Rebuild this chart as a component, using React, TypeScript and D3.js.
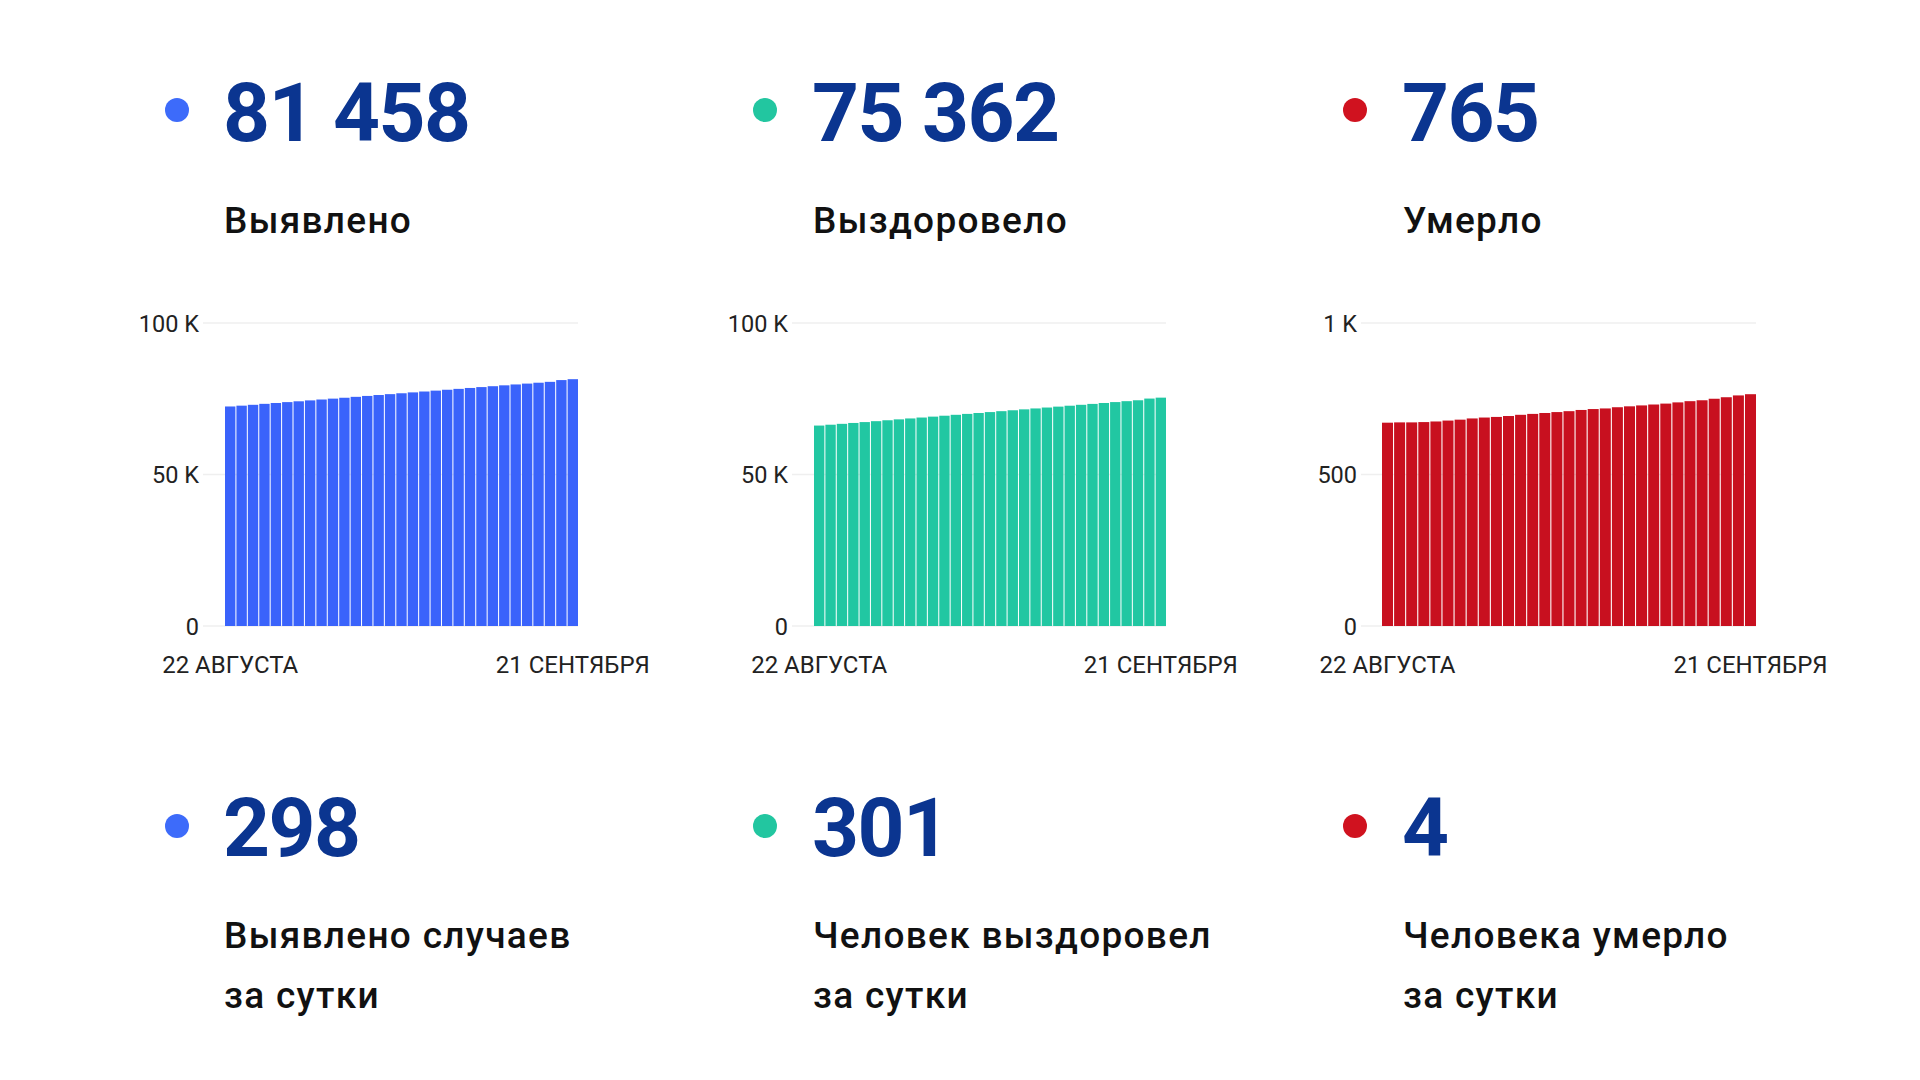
import * as d3 from 'd3'

// 22 августа … 21 сентября, cumulative totals
const DAYS = d3.range(31).map(i => `d${i}`)

const CASES = [
  72450, 72720, 73000, 73320, 73600, 73890, 74160, 74460, 74750, 75040,
  75330, 75630, 75930, 76230, 76520, 76810, 77100, 77390, 77680, 77970,
  78260, 78560, 78850, 79140, 79430, 79720, 80000, 80290, 80580, 81160, 81458,
]

const RECOVERED = [
  66150, 66430, 66720, 67010, 67300, 67600, 67900, 68200, 68500, 68800,
  69100, 69400, 69700, 70000, 70300, 70600, 70900, 71200, 71500, 71800,
  72100, 72400, 72700, 73000, 73300, 73600, 73900, 74200, 74500, 75061, 75362,
]

const DEATHS = [
  671, 672, 672, 673, 675, 678, 681, 685, 688, 690,
  693, 697, 700, 703, 706, 709, 713, 716, 718, 722,
  725, 728, 731, 734, 738, 742, 745, 750, 755, 761, 765,
]

const X_LABELS = ['22 АВГУСТА', '21 СЕНТЯБРЯ']

const TOTALS = ['81 458', '75 362', '765']
const TOTAL_LABELS = ['Выявлено', 'Выздоровело', 'Умерло']
const DAILY = ['298', '301', '4']
const DAILY_LABELS = [
  ['Выявлено случаев', 'за сутки'],
  ['Человек выздоровел', 'за сутки'],
  ['Человека умерло', 'за сутки'],
]

const DOT_COLORS = ['#3d6bfa', '#22c6a0', '#d0121f']
const BAR_COLORS = ['#3a63fb', '#21c7a2', '#c8101f']
const NUM_COLOR = '#0b3590'
const FONT = 'Roboto, "Noto Sans", sans-serif'

type ChartCfg = {
  values: number[]
  max: number
  ticks: number[]
  fmt: (v: number) => string
  labelRight: number
  x0: number
  x1: number
  color: string
}

const kFmt = (v: number) => (v === 0 ? '0' : `${v / 1000} K`)

const CHARTS: ChartCfg[] = [
  { values: CASES, max: 100000, ticks: [0, 50000, 100000], fmt: kFmt, labelRight: 199, x0: 225, x1: 578, color: BAR_COLORS[0] },
  { values: RECOVERED, max: 100000, ticks: [0, 50000, 100000], fmt: kFmt, labelRight: 788, x0: 814, x1: 1166, color: BAR_COLORS[1] },
  { values: DEATHS, max: 1000, ticks: [0, 500, 1000], fmt: v => (v === 1000 ? '1 K' : `${v}`), labelRight: 1357, x0: 1382, x1: 1756, color: BAR_COLORS[2] },
]

const COL_DOT = [177, 765, 1355]
const COL_NUM = [223, 812, 1402]
const COL_LABEL = [224, 813, 1403]

function BarChart({ cfg }: { cfg: ChartCfg }) {
  const y = d3.scaleLinear().domain([0, cfg.max]).range([626, 323])
  const x = d3.scaleBand<string>().domain(DAYS).range([cfg.x0, cfg.x1]).paddingInner(0.09).paddingOuter(0)
  const first = (x(DAYS[0]) ?? 0) + x.bandwidth() / 2
  const last = (x(DAYS[DAYS.length - 1]) ?? 0) + x.bandwidth() / 2
  return (
    <g>
      {cfg.ticks.map(t => (
        <g key={t}>
          <line x1={cfg.labelRight + 4} x2={cfg.x1} y1={y(t)} y2={y(t)} stroke="#efefef" strokeWidth={1.5} />
          <text x={cfg.labelRight} y={y(t) + 8.5} textAnchor="end" fontSize={23.5} fill="#222" fontFamily={FONT}>
            {cfg.fmt(t)}
          </text>
        </g>
      ))}
      {cfg.values.map((v, i) => (
        <rect
          key={i}
          x={x(DAYS[i])}
          y={y(v)}
          width={x.bandwidth()}
          height={y(0) - y(v)}
          fill={cfg.color}
        />
      ))}
      <text x={first} y={673} textAnchor="middle" fontSize={24} fill="#222" fontFamily={FONT}>{X_LABELS[0]}</text>
      <text x={last} y={673} textAnchor="middle" fontSize={24} fill="#222" fontFamily={FONT}>{X_LABELS[1]}</text>
    </g>
  )
}

export default function App() {
  return (
    <svg width={1920} height={1080} style={{ position: 'absolute', left: 0, top: 0, background: '#fff' }}>
      <rect width={1920} height={1080} fill="#fff" />
      {TOTALS.map((t, i) => (
        <g key={`t${i}`}>
          <circle cx={COL_DOT[i]} cy={110} r={12} fill={DOT_COLORS[i]} />
          <text x={COL_NUM[i]} y={141} fontSize={82} fontWeight={700} letterSpacing={-1.5} fill={NUM_COLOR} fontFamily={FONT}>{t}</text>
          <text x={COL_LABEL[i]} y={233} fontSize={37} fontWeight={500} letterSpacing={1.3} fill="#111" fontFamily={FONT}>{TOTAL_LABELS[i]}</text>
        </g>
      ))}
      {CHARTS.map((c, i) => <BarChart key={i} cfg={c} />)}
      {DAILY.map((d, i) => (
        <g key={`d${i}`}>
          <circle cx={COL_DOT[i]} cy={826} r={12} fill={DOT_COLORS[i]} />
          <text x={COL_NUM[i]} y={856} fontSize={82} fontWeight={700} letterSpacing={-1.5} fill={NUM_COLOR} fontFamily={FONT}>{d}</text>
          {DAILY_LABELS[i].map((line, j) => (
            <text key={j} x={COL_LABEL[i]} y={948 + j * 60} fontSize={37} fontWeight={500} letterSpacing={1.3} fill="#111" fontFamily={FONT}>{line}</text>
          ))}
        </g>
      ))}
    </svg>
  )
}
